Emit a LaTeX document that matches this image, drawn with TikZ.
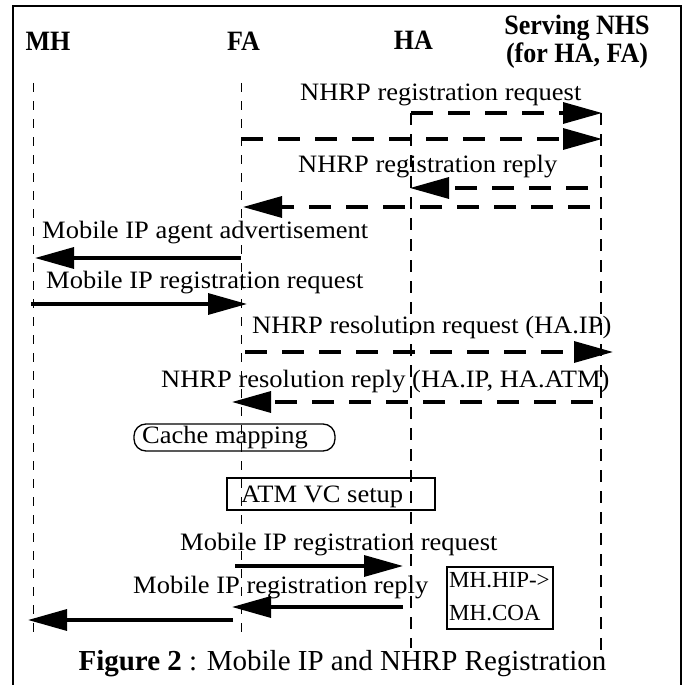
\documentclass[tikz,border=0pt]{standalone}
\usepackage{fontspec}
\setmainfont{Liberation Serif}
\newfontfamily\bodyfont{Liberation Serif}[FakeStretch=1.06]
\newfontfamily\headfont{Liberation Serif}[FakeStretch=0.93]
\usetikzlibrary{arrows.meta}
\tikzset{
  lbl/.style={anchor=base west, inner sep=0pt, font=\bodyfont\fontsize{25}{30}\selectfont},
  boxtxt/.style={anchor=base west, inner sep=0pt, font=\fontsize{23}{26}\selectfont},
  hdr/.style={anchor=base, inner sep=0pt, font=\headfont\bfseries\fontsize{28}{30}\selectfont},
  captxt/.style={anchor=base, inner sep=0pt, font=\fontsize{29}{32}\selectfont},
  life/.style={dash pattern=on 9pt off 9pt, line width=1pt},
  lifeb/.style={dash pattern=on 12pt off 9pt, line width=1.8pt},
  msg/.style={line width=3.3pt, -{Triangle[length=39pt,width=21pt]}},
  msgd/.style={msg, dash pattern=on 22pt off 15pt},
  boxline/.style={line width=1.3pt},
}
\begin{document}
\begin{tikzpicture}[x=1pt,y=-1pt]
\useasboundingbox (0,0) rectangle (691,685);
% frame
\draw[line width=2pt] (12.7,686) -- (12.7,6) -- (681,6) -- (681,686);

% headers
\node[hdr] (hMH) at (48,51) {MH};
\node[hdr] (hFA) at (243.5,51) {FA};
\node[hdr] (hHA) at (413.5,50) {HA};
\node[hdr] (hNHS) at (577,35) {Serving NHS};
\node[hdr] (hNHS2) at (577,63) {(for HA, FA)};

% lifelines
\coordinate (MHt) at (33,83);   \coordinate (MHb) at (33,637);
\coordinate (FAt) at (241,83);  \coordinate (FAb) at (241,633);
\coordinate (HAt) at (411,113); \coordinate (HAb) at (411,648);
\coordinate (NSt) at (601,113); \coordinate (NSb) at (601,657);
\draw[life] (MHt) -- (MHb);
\draw[life] (FAt) -- (FAb);
\draw[lifeb] (HAt) -- (HAb);
\draw[lifeb] (NSt) -- (NSb);

% message end points
\coordinate (a1s) at (411,113); \coordinate (a1e) at (602,113);
\coordinate (a2s) at (241,139); \coordinate (a2e) at (602,139);
\coordinate (a3s) at (588,188); \coordinate (a3e) at (410,188);
\coordinate (a4s) at (590,207); \coordinate (a4e) at (243,207);
\coordinate (a5s) at (241,258); \coordinate (a5e) at (35,258);
\coordinate (a6s) at (31,304);  \coordinate (a6e) at (247,304);
\coordinate (a7s) at (245,352); \coordinate (a7e) at (613,352);
\coordinate (a8s) at (593,402); \coordinate (a8e) at (232,402);
\coordinate (a9s) at (235,566); \coordinate (a9e) at (403,566);
\coordinate (a10s) at (403,607); \coordinate (a10e) at (232,607);
\coordinate (a11s) at (233,620); \coordinate (a11e) at (28,620);

\draw[msgd] (a1s) -- (a1e);
\draw[msgd] (a2s) -- (a2e);
\draw[msgd] (a3s) -- (a3e);
\draw[msgd] (a4s) -- (a4e);
\draw[msg] (a5s) -- (a5e);
\draw[msg] (a6s) -- (a6e);
\draw[msgd] (a7s) -- (a7e);
\draw[msgd] (a8s) -- (a8e);
\draw[msg] (a9s) -- (a9e);
\draw[msg] (a10s) -- (a10e);
\draw[msg] (a11s) -- (a11e);

% labels
\node[lbl] (t1) at (300,100) {NHRP registration request};
\node[lbl] (t2) at (298,172) {NHRP registration reply};
\node[lbl] (t3) at (42,238) {Mobile IP agent advertisement};
\node[lbl] (t4) at (46,288) {Mobile IP registration request};
\node[lbl] (t5) at (252,333) {NHRP resolution request (HA.IP)};
\node[lbl] (t6) at (161,387) {NHRP resolution reply (HA.IP, HA.ATM)};
\node[lbl] (t7) at (180,550) {Mobile IP registration request};
\node[lbl] (t8) at (133,593) {Mobile IP registration reply};

% boxes
\draw[boxline, rounded corners=12pt] (134,424) rectangle (335,451);
\node[lbl] (cache) at (142,443) {Cache mapping};
\draw[boxline] (227,478) rectangle (435,510);
\node[lbl] (atm) at (241,502) {ATM VC setup};
\draw[boxline] (447,567) rectangle (553,629);
\node[boxtxt] (mh1) at (449,587) {MH.HIP->};
\node[boxtxt] (mh2) at (449,620) {MH.COA};

% caption
\node[captxt] (caption) at (342.5,670) {\textbf{Figure 2} : Mobile IP and NHRP Registration};
\end{tikzpicture}
\end{document}
